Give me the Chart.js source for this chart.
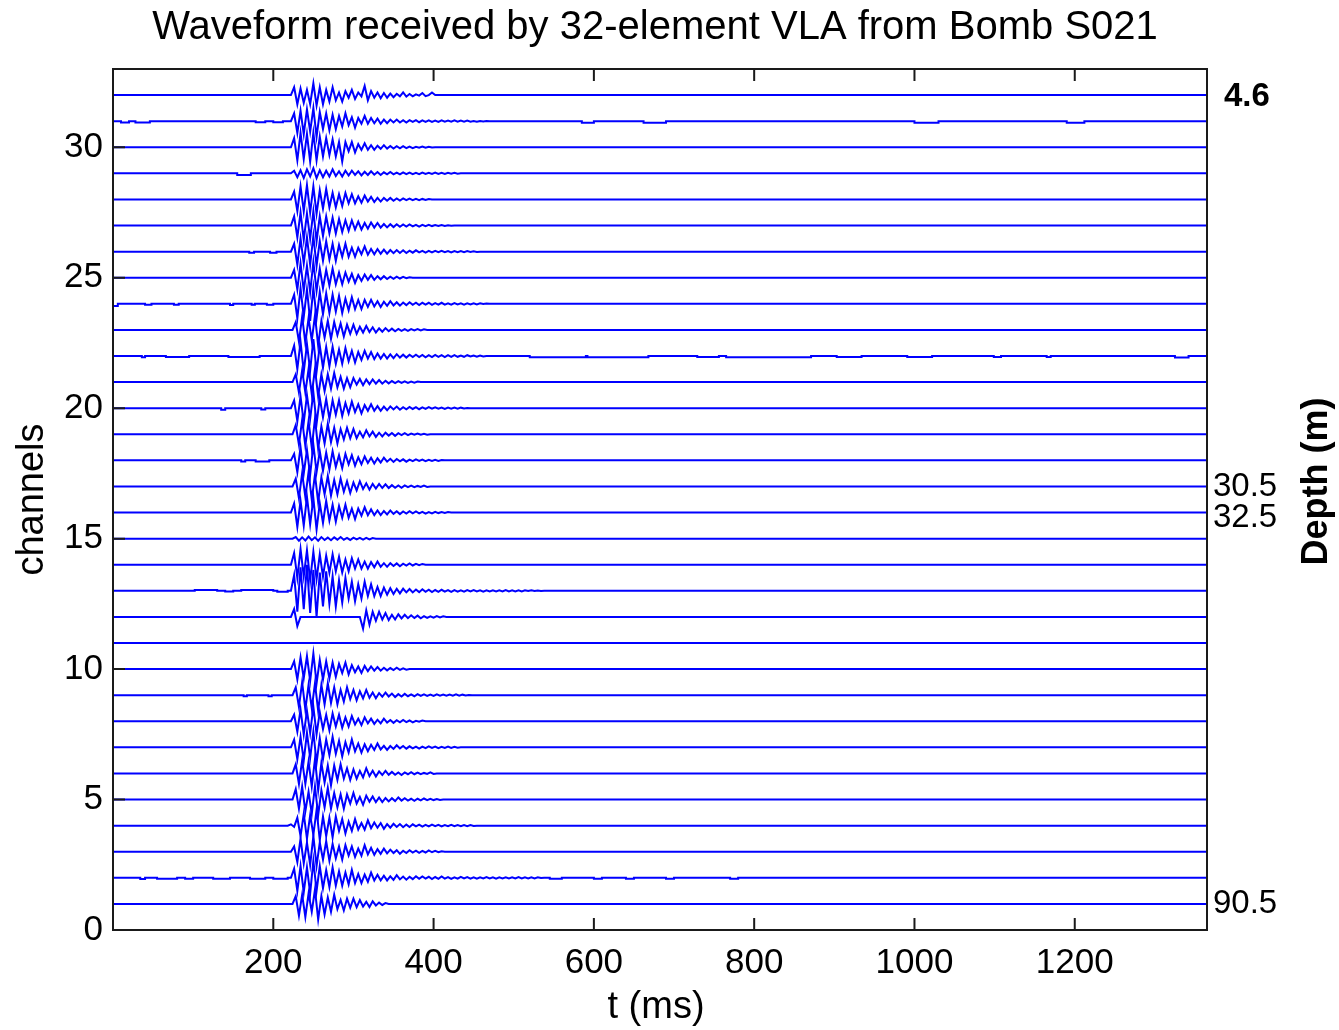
<!DOCTYPE html>
<html>
<head>
<meta charset="utf-8">
<script src="https://cdn.jsdelivr.net/npm/chart.js@4.4.0/dist/chart.umd.min.js"></script>
<style>
  html, body { margin: 0; padding: 0; background: #fff; }
</style>
</head>
<body>
<canvas id="chart" width="1339" height="1030"></canvas>
<script>
const FONT = '"Liberation Sans", Arial, Helvetica, sans-serif';

const title = 'Waveform received by 32-element VLA from Bomb S021';
const xTicks = [200, 400, 600, 800, 1000, 1200];
const yTicks = [0, 5, 10, 15, 20, 25, 30];
const tMin = 0;
const tMax = 1365;
const DT = 4; // ms between burst samples

// Depth labels on the right side
const depthChannels = [32, 17, 16, 1];
const depthTexts = ['4.6', '30.5', '32.5', '90.5'];

// Start time (ms) of the recorded burst for channel 1..32
const onsets = [224, 222, 222, 218, 224, 224, 222, 222, 224, 222,
                0, 222, 222, 222, 224, 222, 224, 222, 224, 222,
                224, 222, 224, 222, 222, 222, 222, 222, 222, 222,
                222, 222];

// Burst amplitudes (channel units) sampled every DT ms, channel 1 first
const waves = [
  [0,.3,-.45,.35,-.5,.4,-.3,.55,-.6,.3,-.4,.25,-.3,.35,-.2,.15,-.25,.2,-.15,.2,-.12,.15,-.1,.08,-.12,.1,-.06,.05,-.04,.03,0],
  [0,.35,-.5,.45,-.55,.4,-.6,.65,-.5,.45,-.4,.3,-.35,.4,-.3,.25,-.3,.2,-.25,.3,-.2,.15,-.2,.12,-.15,.2,-.1,.12,-.1,.08,-.1,.06,-.08,.1,-.06,.05,-.07,.04,-.05,.06,-.04,.05,-.03,.04,-.05,.03,-.04,.05,-.03,.03,-.04,.02,-.03,.04,-.02,.03,-.03,.02,-.03,.02,-.02,.03,-.02,.02,-.03,.02,-.02,.02,-.02,.02,-.02,.03,-.02,.02,-.02,.02,-.02,.02,-.01,0],
  [0,.2,-.4,.5,-.45,.35,-.5,.6,-.55,.35,-.3,.4,-.35,.3,-.25,.2,-.3,.25,-.15,.2,-.2,.12,-.15,.25,-.1,.15,-.12,.1,-.08,.12,-.06,.08,-.05,.06,-.08,.04,-.05,.06,-.03,.04,-.04,.03,-.03,.05,-.02,.03,-.02,.02,0],
  [0,.05,-.05,.3,-.4,.45,-.5,.4,-.35,.6,-.55,.35,-.4,.3,-.45,.35,-.2,.25,-.3,.15,-.2,.25,-.15,.1,-.15,.2,-.1,.12,-.08,.1,-.12,.06,-.08,.07,-.05,.06,-.06,.04,-.05,.05,-.03,.04,-.04,.03,-.03,.04,-.02,.03,-.03,.02,-.02,.03,-.02,.02,-.02,.02,-.02,.02,-.01,0],
  [0,.4,-.35,.5,-.45,.3,-.55,.5,-.6,.35,-.3,.45,-.35,.25,-.3,.2,-.35,.2,-.15,.25,-.15,.1,-.2,.15,-.08,.12,-.1,.08,-.1,.06,-.07,.05,-.06,.08,-.04,.05,-.04,.03,-.05,.03,-.03,.04,-.02,.03,-.02,.02,-.02,0],
  [0,.35,-.4,.5,-.4,.45,-.5,.55,-.65,.4,-.35,.3,-.45,.3,-.25,.35,-.2,.2,-.25,.15,-.2,.1,-.15,.2,-.1,.1,-.12,.08,-.06,.1,-.05,.06,-.05,.04,-.06,.04,-.03,.05,-.03,.03,-.03,.02,-.02,.04,-.02,0],
  [0,.3,-.45,.4,-.5,.55,-.4,.6,-.6,.35,-.45,.3,-.3,.4,-.25,.25,-.35,.2,-.2,.3,-.15,.15,-.2,.12,-.15,.1,-.1,.15,-.08,.06,-.1,.05,-.06,.08,-.04,.05,-.05,.04,-.04,.03,-.05,.03,-.03,.04,-.02,.03,-.03,.02,-.02,.03,-.02,.02,-.01,0],
  [0,.25,-.4,.45,-.5,.4,-.45,.55,-.5,.35,-.3,.25,-.35,.3,-.2,.25,-.25,.15,-.2,.2,-.12,.1,-.15,.15,-.08,.1,-.1,.06,-.08,.1,-.05,.05,-.06,.04,-.04,.05,-.03,.03,-.04,.02,-.02,.03,0],
  [0,.3,-.45,.5,-.55,.4,-.5,.45,-.6,.4,-.35,.45,-.3,.3,-.35,.2,-.25,.3,-.15,.2,-.2,.15,-.12,.2,-.1,.1,-.12,.08,-.06,.1,-.05,.06,-.07,.04,-.05,.05,-.04,.03,-.04,.04,-.03,.03,-.03,.02,-.03,.03,-.02,.02,-.02,.02,-.02,.03,-.02,.02,-.01,.01,0],
  [0,.3,-.4,.45,-.35,.5,-.45,.6,-.55,.35,-.4,.3,-.35,.25,-.3,.2,-.15,.25,-.2,.15,-.12,.1,-.15,.12,-.08,.1,-.06,.08,-.06,.05,-.05,.04,-.04,.05,-.03,.03,-.02,0],
  [],
  [0,.3,-.35,0],
  [0,.6,-.8,.9,-.7,1.0,-.85,.8,-1.0,.7,-.6,.75,-.5,.55,-.6,.4,-.45,.5,-.3,.35,-.4,.25,-.3,.35,-.2,.25,-.2,.15,-.2,.12,-.15,.1,-.12,.08,-.1,.08,-.06,.07,-.06,.05,-.05,.06,-.04,.04,-.05,.03,-.04,.04,-.03,.03,-.04,.03,-.03,.02,-.03,.03,-.02,.03,-.02,.02,-.03,.02,-.02,.02,-.02,.02,-.02,.03,-.02,.02,-.02,.02,-.02,.02,-.01,.02,-.01,.01,-.01,0],
  [0,.45,-.5,.6,-.45,.55,-.6,.5,-.55,.4,-.45,.35,-.3,.4,-.25,.3,-.3,.2,-.25,.25,-.15,.2,-.15,.12,-.15,.1,-.1,.12,-.08,.06,-.08,.06,-.05,.05,-.06,.04,-.03,.05,-.03,.03,-.02,.03,0],
  [0,.06,-.08,.05,-.07,.08,-.06,.05,-.08,.06,-.05,.04,-.06,.05,-.04,.06,-.04,.03,-.05,.04,-.03,.03,-.04,.03,-.03,.02,0],
  [0,.35,-.55,.45,-.5,.6,-.45,.55,-.65,.35,-.4,.45,-.3,.3,-.35,.25,-.2,.3,-.2,.15,-.25,.15,-.12,.2,-.1,.12,-.1,.08,-.1,.06,-.07,.08,-.05,.05,-.06,.04,-.04,.05,-.03,.04,-.03,.03,-.04,.02,-.03,.03,-.02,.02,-.02,.02,0],
  [0,.3,-.45,.5,-.4,.55,-.5,.45,-.6,.35,-.3,.4,-.35,.25,-.3,.3,-.2,.2,-.25,.15,-.15,.2,-.1,.12,-.12,.1,-.08,.1,-.06,.08,-.06,.05,-.05,.04,-.05,.04,-.03,.03,-.03,.02,-.02,.03,-.02,0],
  [0,.25,-.45,.5,-.5,.4,-.55,.6,-.45,.35,-.4,.3,-.35,.35,-.25,.2,-.3,.25,-.15,.2,-.2,.12,-.15,.15,-.1,.1,-.12,.08,-.08,.1,-.05,.06,-.06,.05,-.04,.04,-.05,.03,-.03,.04,-.02,.03,-.03,.02,-.02,.02,-.02,.01,0],
  [0,.35,-.4,.55,-.45,.5,-.5,.6,-.55,.3,-.35,.4,-.3,.25,-.35,.2,-.2,.25,-.15,.2,-.15,.1,-.12,.15,-.08,.1,-.1,.06,-.08,.06,-.05,.05,-.06,.04,-.03,.04,-.03,.03,-.02,.03,-.02,.02,-.02,0],
  [0,.3,-.5,.45,-.55,.5,-.4,.6,-.6,.4,-.35,.35,-.4,.3,-.25,.3,-.3,.2,-.2,.25,-.15,.15,-.2,.12,-.1,.15,-.1,.08,-.1,.06,-.08,.07,-.05,.06,-.06,.04,-.04,.05,-.03,.04,-.04,.03,-.03,.04,-.02,.03,-.02,.02,-.03,.02,-.02,.02,-.02,.02,-.01,.01,0],
  [0,.3,-.4,.45,-.4,.5,-.45,.5,-.55,.3,-.35,.3,-.25,.35,-.2,.2,-.25,.15,-.2,.15,-.1,.12,-.12,.1,-.08,.1,-.06,.08,-.06,.05,-.05,.04,-.04,.04,-.03,.03,-.03,.02,-.02,.02,0],
  [0,.4,-.5,.55,-.6,.45,-.55,.65,-.6,.4,-.45,.35,-.4,.35,-.3,.25,-.3,.3,-.2,.2,-.25,.15,-.15,.2,-.1,.15,-.12,.1,-.1,.08,-.1,.06,-.08,.07,-.06,.05,-.06,.05,-.04,.05,-.04,.04,-.05,.03,-.04,.04,-.03,.03,-.04,.03,-.03,.03,-.03,.02,-.03,.03,-.02,.02,-.03,.02,-.02,0],
  [0,.3,-.45,.5,-.5,.45,-.4,.55,-.6,.35,-.3,.35,-.35,.3,-.2,.25,-.25,.2,-.15,.2,-.15,.12,-.1,.15,-.08,.1,-.1,.06,-.07,.07,-.05,.05,-.05,.04,-.04,.03,-.04,.03,-.02,.03,-.02,.02,0],
  [0,.35,-.55,.6,-.5,.55,-.65,.6,-.55,.45,-.4,.4,-.35,.35,-.3,.3,-.35,.2,-.25,.25,-.2,.15,-.2,.15,-.12,.15,-.1,.1,-.12,.08,-.08,.1,-.06,.06,-.07,.05,-.05,.06,-.04,.04,-.05,.04,-.03,.04,-.04,.03,-.03,.04,-.03,.02,-.03,.03,-.02,.02,-.03,.02,-.02,.02,-.02,.02,-.01,.01,0],
  [0,.3,-.45,.55,-.5,.45,-.55,.6,-.5,.35,-.4,.3,-.3,.35,-.25,.2,-.25,.2,-.15,.15,-.2,.1,-.12,.12,-.08,.1,-.08,.06,-.06,.06,-.05,.04,-.04,.04,-.03,.03,-.02,.02,0],
  [0,.3,-.5,.5,-.45,.55,-.5,.6,-.55,.4,-.35,.4,-.3,.3,-.35,.25,-.2,.3,-.2,.15,-.2,.15,-.1,.2,-.12,.1,-.1,.1,-.08,.08,-.08,.06,-.06,.06,-.05,.05,-.05,.04,-.04,.05,-.03,.03,-.04,.03,-.03,.03,-.02,.03,-.02,.02,-.03,.02,-.02,.02,-.02,.02,-.01,.01,-.01,0],
  [0,.35,-.45,.5,-.55,.45,-.5,.55,-.6,.35,-.4,.35,-.3,.3,-.3,.25,-.25,.2,-.2,.2,-.15,.15,-.15,.1,-.12,.12,-.08,.1,-.08,.06,-.07,.05,-.06,.05,-.05,.04,-.04,.04,-.03,.03,-.04,.03,-.02,.03,-.02,.02,-.02,.02,-.02,.01,-.01,0],
  [0,.3,-.45,.5,-.45,.55,-.5,.5,-.55,.35,-.35,.4,-.3,.25,-.3,.2,-.25,.25,-.15,.2,-.15,.12,-.12,.15,-.08,.1,-.1,.06,-.08,.06,-.05,.06,-.05,.04,-.04,.04,-.03,.03,-.03,.02,-.03,.02,-.02,.02,0],
  [0,.1,-.15,.12,-.18,.15,-.12,.2,-.18,.12,-.15,.1,-.12,.15,-.1,.08,-.12,.1,-.08,.1,-.06,.08,-.08,.06,-.06,.08,-.05,.05,-.06,.04,-.04,.05,-.04,.03,-.04,.04,-.03,.03,-.03,.02,-.03,.03,-.02,.02,-.02,.03,-.02,.02,-.02,.02,-.01,.02,-.01,0],
  [0,.35,-.5,.55,-.45,.5,-.55,.55,-.5,.4,-.35,.35,-.3,.3,-.35,.2,-.55,.2,-.15,.2,-.2,.12,-.1,.15,-.1,.08,-.1,.06,-.06,.08,-.05,.05,-.05,.04,-.04,.04,-.03,.03,-.03,.02,-.02,.03,-.02,.02,-.01,0],
  [0,.3,-.45,.4,-.5,.45,-.4,.5,-.6,.35,-.3,.3,-.35,.25,-.3,.2,-.2,.3,-.15,.15,-.25,.12,-.1,.2,-.1,.12,-.08,.1,-.1,.06,-.08,.06,-.05,.06,-.05,.04,-.05,.04,-.03,.04,-.04,.03,-.03,.03,-.03,.02,-.03,.03,-.02,.02,-.02,.03,-.02,.02,-.02,.02,-.02,.01,-.02,.01,-.01,.01,0],
  [0,.3,-.35,.25,-.3,.2,-.35,.45,-.4,.3,-.35,.2,-.25,.3,-.2,.1,-.25,.15,-.1,.2,-.15,.1,-.05,.35,-.2,.15,-.1,.1,-.12,.08,-.1,.06,-.08,.05,-.05,.1,-.06,.04,-.05,.03,-.02,.08,-.04,0,.1,0]
];

// Second arrival on channel 12: [channel, onset ms, amplitudes]
const lateArrivals = [
  [12, 308, [0,-.45,.25,-.3,.2,-.15,.2,-.1,.15,-.12,.08,-.1,.1,-.06,.08,-.05,.06,-.04,.05,-.05,.03,-.04,.02,-.03,.03,-.02,.02,0]]
];

// Low-level noise steps outside the bursts: [channel, t start, t end, offset]
const noise = [
  [31,10,20,-.05],[31,28,46,-.05],[31,178,190,-.04],[31,200,212,-.04],[31,585,600,-.06],[31,662,690,-.06],[31,1000,1030,-.06],[31,1190,1212,-.06],
  [29,155,172,-.06],
  [26,170,176,-.04],[26,196,204,-.04],
  [24,0,6,-.08],[24,40,48,-.04],[24,76,82,-.04],[24,146,150,-.05],[24,173,177,-.04],[24,192,200,-.04],
  [22,36,40,-.05],[22,66,95,-.04],[22,144,183,-.04],[22,520,590,-.05],[22,592,668,-.05],[22,729,756,-.04],[22,765,871,-.05],[22,903,934,-.04],[22,991,1022,-.04],[22,1099,1108,-.04],[22,1165,1170,-.04],[22,1325,1342,-.06],
  [20,135,140,-.06],[20,185,190,-.05],
  [18,160,165,-.04],[18,178,195,-.04],
  [13,102,130,.03],[13,140,150,-.03],[13,160,200,.03],[13,205,218,-.04],
  [9,163,167,-.04],[9,194,198,-.04],
  [2,34,40,-.05],[2,55,80,-.04],[2,90,100,-.04],[2,125,146,-.04],[2,171,190,-.04],[2,200,218,-.04],[2,545,560,-.04],[2,600,610,-.04],[2,640,650,-.04],[2,690,700,-.04],[2,770,780,-.04]
];

// Build one trace per channel
const datasets = [];
for (let ch = 1; ch <= 32; ch++) {
  const pts = [{x: tMin, y: ch}];
  noise.filter(n => n[0] === ch).forEach(([c, t0, t1, a]) => {
    pts.push({x: t0, y: ch}, {x: t0, y: ch + a}, {x: t1, y: ch + a}, {x: t1, y: ch});
  });
  waves[ch - 1].forEach((v, i) => pts.push({x: onsets[ch - 1] + i * DT, y: ch + v}));
  lateArrivals.filter(l => l[0] === ch).forEach(([c, t0, vals]) => {
    vals.forEach((v, i) => pts.push({x: t0 + i * DT, y: ch + v}));
  });
  pts.push({x: tMax, y: ch});
  pts.sort((a, b) => a.x - b.x);
  datasets.push({
    data: pts,
    borderColor: '#0000ff',
    borderWidth: 2,
    pointRadius: 0,
    fill: false,
    tension: 0
  });
}

// Box, inward ticks and all the text around the axes
const frame = {
  id: 'frame',
  afterDraw(chart) {
    const {ctx, chartArea: a, scales: {x, y}} = chart;
    const tl = 12;
    ctx.save();
    ctx.strokeStyle = '#1a1a1a';
    ctx.lineWidth = 2;
    ctx.strokeRect(a.left, a.top, a.right - a.left, a.bottom - a.top);
    ctx.beginPath();
    xTicks.forEach(t => {
      const px = x.getPixelForValue(t);
      ctx.moveTo(px, a.bottom); ctx.lineTo(px, a.bottom - tl);
      ctx.moveTo(px, a.top); ctx.lineTo(px, a.top + tl);
    });
    yTicks.forEach(v => {
      const py = y.getPixelForValue(v);
      ctx.moveTo(a.left, py); ctx.lineTo(a.left + tl, py);
    });
    ctx.stroke();

    ctx.fillStyle = '#000';
    ctx.textAlign = 'center';
    ctx.textBaseline = 'middle';
    ctx.font = '40px ' + FONT;
    ctx.fillText(title, (a.left + a.right) / 2 - 5, 28);
    ctx.font = '38px ' + FONT;
    ctx.fillText('t (ms)', (a.left + a.right) / 2 - 4, 1008);

    ctx.save();
    ctx.translate(33, (a.top + a.bottom) / 2);
    ctx.rotate(-Math.PI / 2);
    ctx.fillText('channels', 0, 0);
    ctx.restore();

    ctx.save();
    ctx.translate(1317, (a.top + a.bottom) / 2 - 18);
    ctx.rotate(-Math.PI / 2);
    ctx.font = 'bold 36px ' + FONT;
    ctx.fillText('Depth (m)', 0, 0);
    ctx.restore();

    ctx.textAlign = 'left';
    depthChannels.forEach((ch, i) => {
      const first = i === 0;
      ctx.font = (first ? 'bold ' : '') + '33px ' + FONT;
      const dy = ch === 16 ? 5 : (first ? 2 : 0);
      ctx.fillText(depthTexts[i], a.right + (first ? 17 : 6), y.getPixelForValue(ch) + dy);
    });
    ctx.restore();
  }
};

new Chart(document.getElementById('chart'), {
  type: 'line',
  data: {datasets},
  options: {
    responsive: false,
    animation: false,
    devicePixelRatio: 1,
    layout: {padding: {top: 69, right: 132, left: 0, bottom: 0}},
    plugins: {legend: {display: false}, tooltip: {enabled: false}, title: {display: false}},
    scales: {
      x: {
        type: 'linear',
        min: tMin,
        max: tMax,
        afterBuildTicks: s => { s.ticks = xTicks.map(v => ({value: v})); },
        afterFit: s => { s.height = 100; },
        grid: {display: false, drawTicks: false},
        border: {display: false},
        ticks: {color: '#000', font: {family: FONT, size: 35}, padding: 12, maxRotation: 0,
                callback: v => String(v)}
      },
      y: {
        type: 'linear',
        min: 0,
        max: 33,
        afterBuildTicks: s => { s.ticks = yTicks.map(v => ({value: v})); },
        afterFit: s => { s.width = 113; },
        grid: {display: false, drawTicks: false},
        border: {display: false},
        ticks: {color: '#000', font: {family: FONT, size: 35}, padding: 10,
                callback: v => String(v)}
      }
    }
  },
  plugins: [frame]
});
</script>
</body>
</html>
